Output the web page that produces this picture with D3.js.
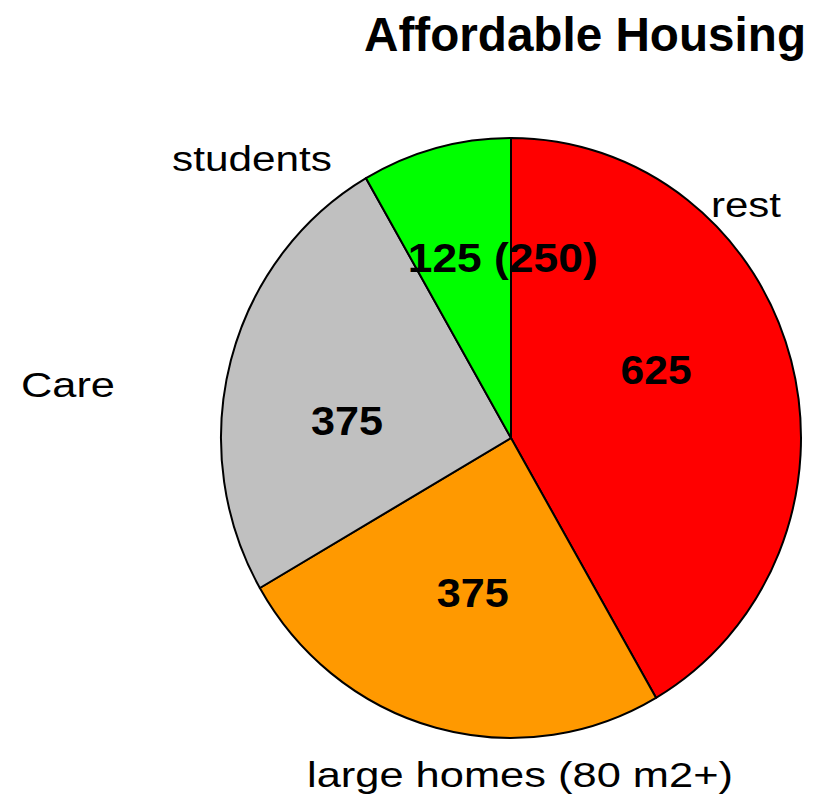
<!DOCTYPE html>
<html>
<head>
<meta charset="utf-8">
<script src="https://cdn.jsdelivr.net/npm/d3@7"></script>
<style>
  html, body { margin: 0; padding: 0; background: #fff; }
  svg { display: block; }
  text { font-family: "Liberation Sans", Arial, Helvetica, sans-serif; fill: #000; }
</style>
</head>
<body>
<svg id="chart" width="814" height="806"></svg>
<script>
// ---- data ----
const title = "Affordable Housing";
const categories = ["rest", "large homes (80 m2+)", "Care", "students"];
const values = [625, 375, 375, 125];
const valueLabels = ["625", "375", "375", "125 (250)"];
const colors = ["#ff0000", "#ff9900", "#c0c0c0", "#00ff00"];

// ---- layout (styling / placement only) ----
const W = 814, H = 806;
const cx = 511, cy = 438, R = 300, xScale = 290 / 300;
const labelR = 165;
// nudges from the arc centroid for value labels (dx, dy of text centre)
const valueNudge = [[-9, -26], [3, -5], [-10, 25], [33, -21]];
const valueWidths = [71, 72, 72, 190];
// category label boxes: centre x, baseline y, width
const catPos = [[746, 217, 70], [520, 787, 426], [68, 397, 94], [252, 171, 160]];

const svg = d3.select("#chart");

const pie = d3.pie().sort(null).startAngle(0).endAngle(2 * Math.PI)
  .value((d, i) => values[i]);
const arcs = pie(categories);
const arc = d3.arc().innerRadius(0).outerRadius(R);
const labelArc = d3.arc().innerRadius(labelR).outerRadius(labelR);

const g = svg.append("g")
  .attr("transform", `translate(${cx},${cy}) scale(${xScale},1)`);

g.selectAll("path.slice")
  .data(arcs)
  .join("path")
  .attr("class", "slice")
  .attr("d", arc)
  .attr("fill", (d, i) => colors[i])
  .attr("stroke", "#000")
  .attr("stroke-width", 2)
  .attr("vector-effect", "non-scaling-stroke")
  .attr("stroke-linejoin", "round");

// value labels
const vfs = 41;
svg.selectAll("text.value")
  .data(arcs)
  .join("text")
  .attr("class", "value")
  .attr("x", (d, i) => cx + labelArc.centroid(d)[0] * xScale + valueNudge[i][0] - valueWidths[i] / 2)
  .attr("y", (d, i) => cy + labelArc.centroid(d)[1] + valueNudge[i][1] + vfs * 0.358)
  .attr("font-size", vfs)
  .attr("font-weight", "bold")
  .attr("textLength", (d, i) => valueWidths[i])
  .attr("lengthAdjust", "spacingAndGlyphs")
  .text((d, i) => valueLabels[i]);

// category labels
svg.selectAll("text.cat")
  .data(categories)
  .join("text")
  .attr("class", "cat")
  .attr("x", (d, i) => catPos[i][0] - catPos[i][2] / 2)
  .attr("y", (d, i) => catPos[i][1])
  .attr("font-size", 35)
  .attr("textLength", (d, i) => catPos[i][2])
  .attr("lengthAdjust", "spacingAndGlyphs")
  .text(d => d);

// title
svg.append("text")
  .attr("x", 364)
  .attr("y", 51)
  .attr("font-size", 47.5)
  .attr("font-weight", "bold")
  .attr("textLength", 442)
  .attr("lengthAdjust", "spacingAndGlyphs")
  .text(title);
</script>
</body>
</html>
